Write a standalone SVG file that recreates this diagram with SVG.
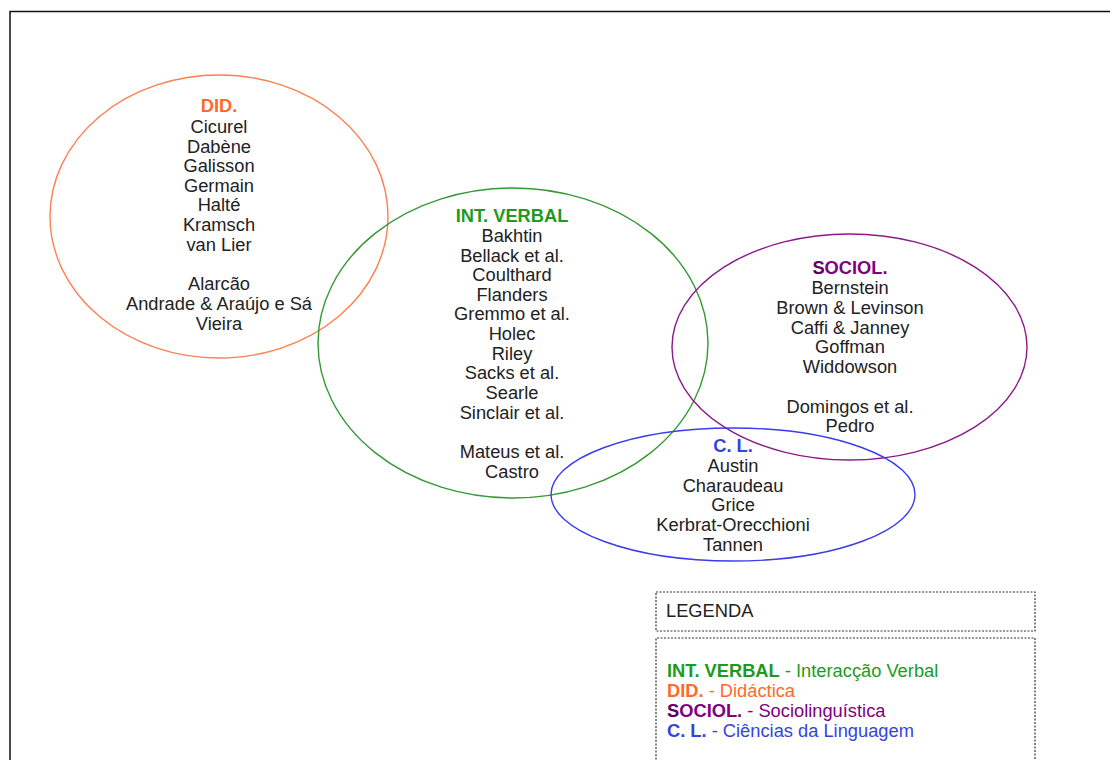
<svg xmlns="http://www.w3.org/2000/svg" width="1110" height="760" viewBox="0 0 1110 760">
<style>
text{font-family:"Liberation Sans",Arial,sans-serif;font-size:18.3px;fill:#222;}
.c{text-anchor:middle;}
.b{font-weight:bold;}
.ell{fill:none;stroke-width:1.4;}
.dash{fill:none;stroke:#333;stroke-width:1.2;stroke-dasharray:2 1.5;}
.or{fill:#FF6A2A;}
.gr{fill:#1E9A1E;}
.pu{fill:#800080;}
.bl{fill:#3344DD;}
</style>
<rect width="1110" height="760" fill="#fff"/>
<path d="M10,770 V11.5 H1120" fill="none" stroke="#111" stroke-width="1.5"/>
<g id="did">
<ellipse class="ell" cx="219" cy="216.5" rx="169" ry="141.5" stroke="#FF7F50"/>
<text class="c" x="219"><tspan class="b or" x="219" y="112">DID.</tspan><tspan x="219" y="133">Cicurel</tspan><tspan x="219" y="152.5">Dabène</tspan><tspan x="219" y="172">Galisson</tspan><tspan x="219" y="191.5">Germain</tspan><tspan x="219" y="211">Halté</tspan><tspan x="219" y="231">Kramsch</tspan><tspan x="219" y="250.5">van Lier</tspan><tspan x="219" y="290">Alarcão</tspan><tspan x="219" y="310">Andrade &amp; Araújo e Sá</tspan><tspan x="219" y="329.5">Vieira</tspan></text>
</g>
<g id="intverbal">
<ellipse class="ell" cx="513" cy="343" rx="195" ry="155" stroke="#339933"/>
<text class="c"><tspan class="b gr" x="512" y="222">INT. VERBAL</tspan><tspan x="512" y="242">Bakhtin</tspan><tspan x="512" y="261.5">Bellack et al.</tspan><tspan x="512" y="281">Coulthard</tspan><tspan x="512" y="300.5">Flanders</tspan><tspan x="512" y="320">Gremmo et al.</tspan><tspan x="512" y="340">Holec</tspan><tspan x="512" y="359.5">Riley</tspan><tspan x="512" y="379">Sacks et al.</tspan><tspan x="512" y="399">Searle</tspan><tspan x="512" y="418.5">Sinclair et al.</tspan><tspan x="512" y="458">Mateus et al.</tspan><tspan x="512" y="478">Castro</tspan></text>
</g>
<g id="sociol">
<ellipse class="ell" cx="849.5" cy="347" rx="177.5" ry="113" stroke="#8B1A8B"/>
<text class="c"><tspan class="b pu" x="850" y="274"><tspan fill="#600060">S</tspan>OCIOL.</tspan><tspan x="850" y="294">Bernstein</tspan><tspan x="850" y="314">Brown &amp; Levinson</tspan><tspan x="850" y="334">Caffi &amp; Janney</tspan><tspan x="850" y="353">Goffman</tspan><tspan x="850" y="373">Widdowson</tspan><tspan x="850" y="413">Domingos et al.</tspan><tspan x="850" y="432">Pedro</tspan></text>
</g>
<g id="cl">
<ellipse class="ell" cx="733" cy="494.5" rx="182" ry="66.5" stroke="#3B3BF0"/>
<text class="c"><tspan class="b bl" x="733" y="452">C. L.</tspan><tspan x="733" y="472">Austin</tspan><tspan x="733" y="491.5">Charaudeau</tspan><tspan x="733" y="511">Grice</tspan><tspan x="733" y="531">Kerbrat-Orecchioni</tspan><tspan x="733" y="551">Tannen</tspan></text>
</g>
<g id="legend">
<rect class="dash" x="656" y="592" width="379" height="39"/>
<text x="666" y="617">LEGENDA</text>
<path class="dash" d="M656,770 V638 H1035 V770"/>
<text x="667" y="677"><tspan class="b gr">INT. VERBAL</tspan><tspan class="gr"> - Interacção Verbal</tspan></text>
<text x="667" y="697"><tspan class="b or">DID.</tspan><tspan class="or"> - Didáctica</tspan></text>
<text x="667" y="717"><tspan class="b pu"><tspan fill="#600060">S</tspan>OCIOL.</tspan><tspan class="pu"> - Sociolinguística</tspan></text>
<text x="667" y="737"><tspan class="b bl">C. L.</tspan><tspan class="bl"> - Ciências da Linguagem</tspan></text>
</g>
</svg>
